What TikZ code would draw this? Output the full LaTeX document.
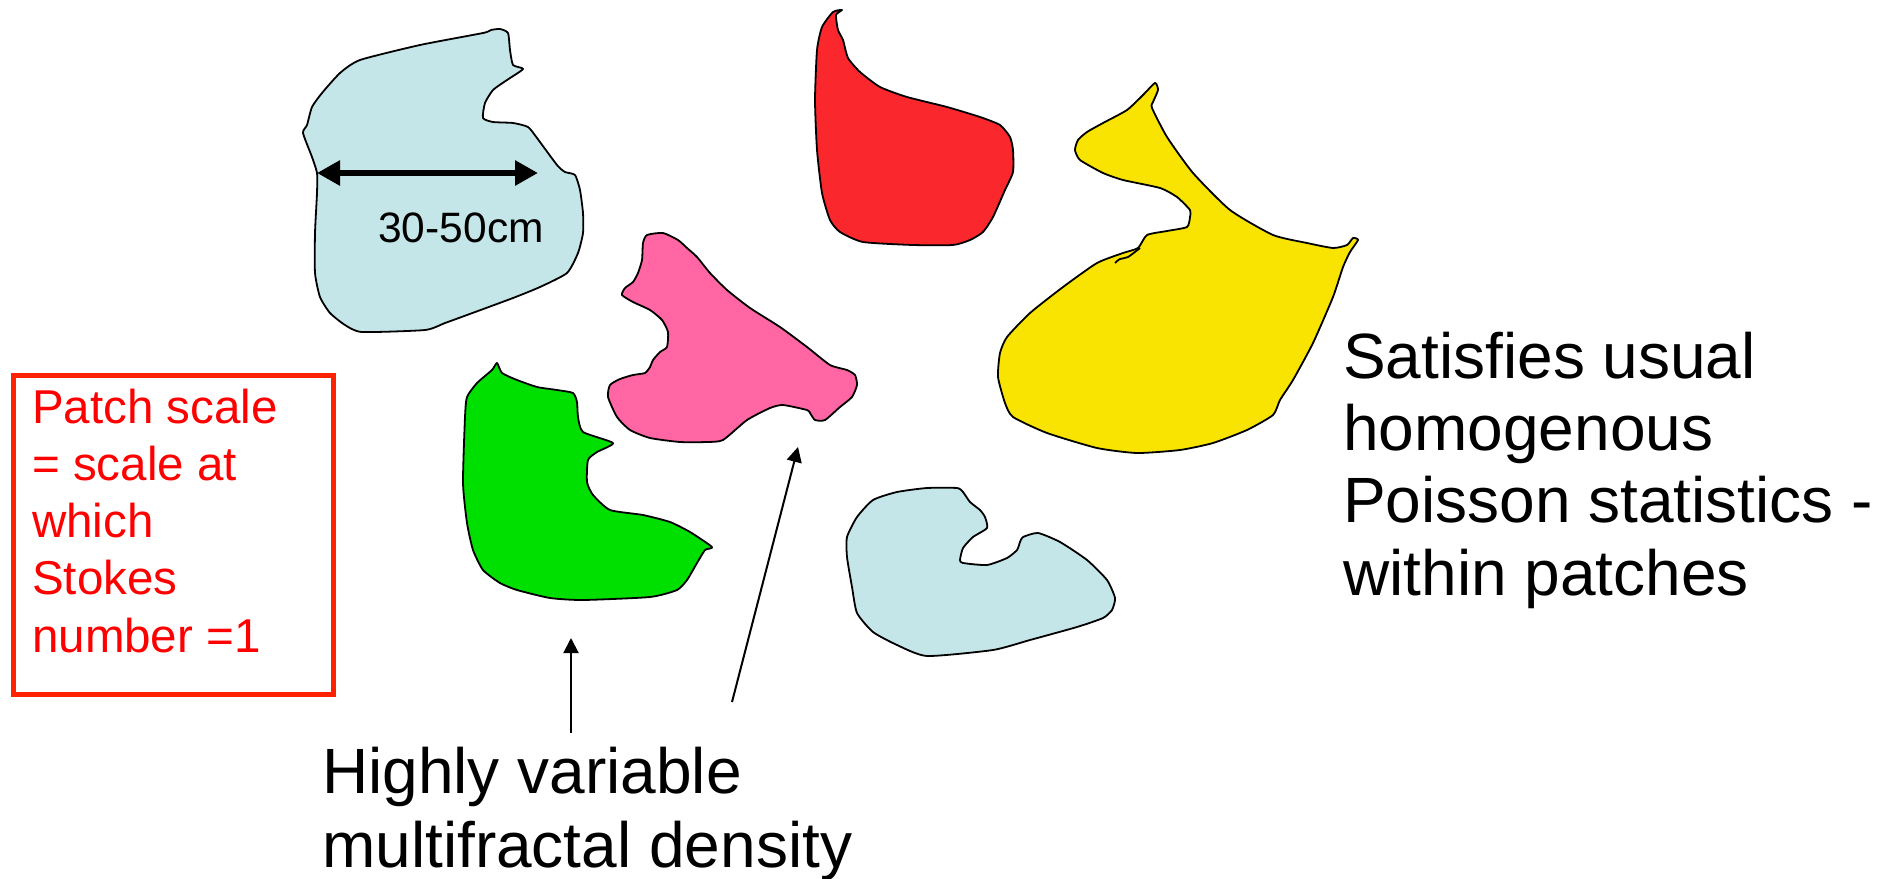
\documentclass[tikz,border=0pt]{standalone}
\usepackage{fontspec}
\setmainfont{Liberation Sans}
\usetikzlibrary{arrows.meta}
\definecolor{patchblue}{HTML}{C5E6E8}
\definecolor{patchred}{HTML}{FA282D}
\definecolor{patchyellow}{HTML}{F8E400}
\definecolor{patchpink}{HTML}{FF66A3}
\definecolor{patchgreen}{HTML}{00E000}
\definecolor{boxred}{HTML}{FF2200}
\tikzset{
  blob/.style={draw=black, line width=1.8pt, line join=round},
  pointer/.style={draw=black, line width=2pt, -{Triangle[length=15pt,width=15pt]}},
  scalearrow/.style={draw=black, line width=6pt, {Triangle[length=23pt,width=24pt]}-{Triangle[length=23pt,width=24pt]}},
  bigtxt/.style={anchor=base west, inner sep=0pt, font=\fontsize{64}{76}\selectfont},
  boxtxt/.style={anchor=base west, inner sep=0pt, text=red, font=\fontsize{47.5}{56}\selectfont},
}
\begin{document}
\begin{tikzpicture}[x=1pt,y=-1pt]
\useasboundingbox (0,0) rectangle (1894,878);

% blue patch (top left)
\filldraw[blob, fill=patchblue] plot[smooth cycle, tension=0.35] coordinates {
 (360,60) (420,45) (483,33) (491,30) (500,29) (508,33) (510,50) (513,65) (523,69)
 (507,80) (493,90) (485,103) (483,118) (493,122) (513,123) (528,127) (537,138)
 (557,165) (565,172) (575,175) (580,190) (583,213) (583,233) (578,253) (567,273)
 (540,287) (513,298) (467,315) (445,323) (425,330) (362,332) (345,325) (330,313)
 (320,297) (315,273) (315,233) (317,193) (317,173) (312,157) (303,133) (307,125)
 (312,107) (322,93) (340,73)};

% red patch
\filldraw[blob, fill=patchred] plot[smooth cycle, tension=0.35] coordinates {
 (833,12) (842,10) (836,15) (838,30) (843,40) (848,58) (860,72) (880,87) (907,97)
 (947,107) (980,117) (1000,125) (1010,137) (1013,150) (1013,172) (1005,190)
 (993,217) (983,232) (970,240) (953,245) (913,245) (863,242) (840,232) (830,220)
 (822,193) (817,150) (815,100) (817,50) (822,27)};

% yellow patch
\filldraw[blob, fill=patchyellow] plot[smooth cycle, tension=0.35] coordinates {
 (1155,83) (1158,90) (1153,102) (1152,108) (1167,137) (1193,173) (1230,210)
 (1273,235) (1307,243) (1333,248) (1347,245) (1353,238) (1358,240) (1350,252)
 (1343,267) (1333,297) (1313,343) (1293,380) (1280,400) (1273,415) (1247,430)
 (1213,443) (1180,450) (1137,453) (1097,448) (1047,433) (1013,417) (1005,403)
 (998,377) (1000,353) (1007,337) (1030,313) (1063,287) (1097,263) (1123,253)
 (1138,248) (1147,235) (1167,231) (1187,227) (1190,217) (1190,210) (1177,197)
 (1160,188) (1123,180) (1103,173) (1080,160) (1075,150) (1078,140) (1087,132)
 (1103,123) (1127,110) (1143,95)};
\draw[blob] plot[smooth, tension=0.5] coordinates {(1115,263) (1120,259) (1128,257) (1140,248)};

% pink patch
\filldraw[blob, fill=patchpink] plot[smooth cycle, tension=0.35] coordinates {
 (647,235) (663,233) (678,240) (687,248) (697,257) (710,273) (727,290) (750,308)
 (780,327) (807,347) (830,365) (847,370) (855,375) (857,385) (852,397) (840,407)
 (825,420) (815,420) (810,413) (807,410) (783,405) (770,408) (747,420) (723,440)
 (707,442) (680,442) (650,438) (630,430) (617,417) (608,397) (610,385) (620,379)
 (633,375) (645,373) (650,367) (653,360) (660,352) (667,347) (668,332) (662,320)
 (650,310) (633,302) (622,295) (625,288) (633,282) (638,273) (642,260) (643,243)};

% green patch
\filldraw[blob, fill=patchgreen] plot[smooth cycle, tension=0.35] coordinates {
 (497,363) (502,373) (517,380) (537,387) (557,390) (573,393) (577,402) (578,417)
 (583,432) (613,443) (597,452) (588,460) (587,482) (593,495) (610,510) (643,515)
 (670,522) (690,532) (712,547) (705,550) (697,563) (687,580) (677,590) (650,597)
 (583,600) (550,598) (517,590) (500,583) (483,570) (473,550) (467,523) (463,483)
 (465,417) (467,397) (477,383) (492,370)};

% blue patch (bottom right)
\filldraw[blob, fill=patchblue] plot[smooth cycle, tension=0.35] coordinates {
 (927,488) (957,488) (963,492) (970,502) (980,510) (985,517) (987,528) (973,537)
 (963,548) (960,560) (963,563) (987,565) (1007,558) (1017,550) (1020,542)
 (1023,537) (1038,533) (1060,542) (1087,560) (1107,580) (1115,598) (1112,610)
 (1103,618) (1077,627) (1030,640) (993,650) (927,656) (897,645) (873,632)
 (857,613) (852,587) (847,557) (847,537) (857,517) (873,500) (897,492)};

% scale arrow and label
\coordinate (sc-left) at (317,173);
\coordinate (sc-right) at (538,173);
\draw[scalearrow] (sc-left) -- (sc-right);
\node[anchor=base, inner sep=0pt, font=\fontsize{42.5}{50}\selectfont] (sclabel) at (461,242) {30-50cm};

% red box
\node[draw=boxred, line width=5pt, minimum width=320pt, minimum height=319pt, inner sep=0pt, anchor=north west] (box) at (11,373) {};
\node[boxtxt] (b1) at (32,423) {Patch scale};
\node[boxtxt] (b2) at (32,480) {= scale at};
\node[boxtxt] (b3) at (32,537) {which};
\node[boxtxt] (b4) at (32,594) {Stokes};
\node[boxtxt] (b5) at (32,652) {number =1};

% right text
\node[bigtxt] (r1) at (1343,378) {Satisfies usual};
\node[bigtxt] (r2) at (1343,450) {homogenous};
\node[bigtxt] (r3) at (1343,522) {Poisson statistics -};
\node[bigtxt] (r4) at (1343,595) {within patches};

% bottom text
\node[bigtxt] (m1) at (322,793) {Highly variable};
\node[bigtxt] (m2) at (322,867) {multifractal density};

% pointers
\coordinate (p1-tail) at (571,733);
\coordinate (p1-tip) at (571,638);
\coordinate (p2-tail) at (732,702);
\coordinate (p2-tip) at (798,447);
\draw[pointer] (p1-tail) -- (p1-tip);
\draw[pointer] (p2-tail) -- (p2-tip);
\end{tikzpicture}
\end{document}
